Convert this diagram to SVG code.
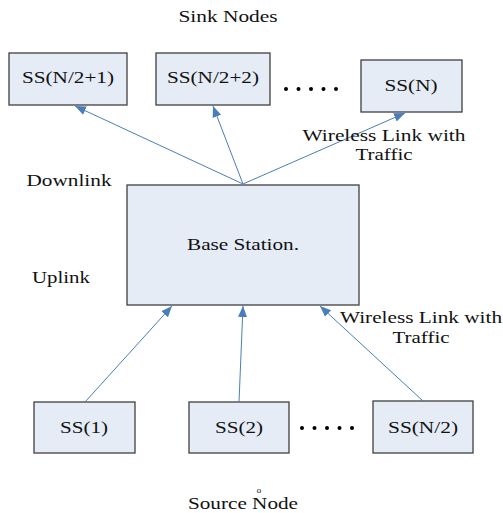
<svg xmlns="http://www.w3.org/2000/svg" width="503" height="513" viewBox="0 0 503 513">
<style>
text{font-family:"Liberation Serif","Times New Roman",serif;font-size:16px;fill:#111;text-anchor:middle}
.box{fill:#e5ecf6;stroke:#3f3f3f;stroke-width:1.3}
.link{stroke:#4a7ebb;stroke-width:1;fill:none;marker-end:url(#arr)}
.dot{fill:#000}
</style>
<defs>
<marker id="arr" markerUnits="userSpaceOnUse" markerWidth="12" markerHeight="12" viewBox="0 0 12 12" refX="11" refY="6" orient="auto">
<path d="M0,1.5 L11,6 L0,10.5 Z" fill="#4a7ebb"/>
</marker>
</defs>
<text x="228" y="22" textLength="99" lengthAdjust="spacingAndGlyphs">Sink Nodes</text>
<g id="ss_n2_1"><rect class="box" x="9" y="53" width="118" height="52"/><text x="68" y="83" textLength="92" lengthAdjust="spacingAndGlyphs">SS(N/2+1)</text></g>
<g id="ss_n2_2"><rect class="box" x="156" y="53" width="114" height="52"/><text x="213" y="83" textLength="92" lengthAdjust="spacingAndGlyphs">SS(N/2+2)</text></g>
<g id="dots_top"><circle class="dot" cx="286" cy="89" r="2"/><circle class="dot" cx="298.5" cy="89" r="2"/><circle class="dot" cx="311" cy="89" r="2"/><circle class="dot" cx="323.5" cy="89" r="2"/><circle class="dot" cx="336" cy="89" r="2"/></g>
<g id="ss_n"><rect class="box" x="361" y="60" width="101" height="52"/><text x="411" y="91" textLength="53" lengthAdjust="spacingAndGlyphs">SS(N)</text></g>
<g id="base_station"><rect class="box" x="127" y="185" width="232" height="120"/><text x="243" y="250" textLength="112" lengthAdjust="spacingAndGlyphs">Base Station.</text></g>
<g id="ss_1"><rect class="box" x="34" y="402" width="101" height="51"/><text x="84" y="433" textLength="48" lengthAdjust="spacingAndGlyphs">SS(1)</text></g>
<g id="ss_2"><rect class="box" x="189" y="402" width="100" height="51"/><text x="239" y="433" textLength="48" lengthAdjust="spacingAndGlyphs">SS(2)</text></g>
<g id="dots_bottom"><circle class="dot" cx="302" cy="428" r="2"/><circle class="dot" cx="314.5" cy="428" r="2"/><circle class="dot" cx="327" cy="428" r="2"/><circle class="dot" cx="339.5" cy="428" r="2"/><circle class="dot" cx="352" cy="428" r="2"/></g>
<g id="ss_n2"><rect class="box" x="373" y="401" width="100" height="52"/><text x="423" y="433" textLength="70" lengthAdjust="spacingAndGlyphs">SS(N/2)</text></g>
<g id="connectors">
<line class="link" x1="243" y1="184" x2="75" y2="106"/>
<line class="link" x1="243" y1="184" x2="213" y2="106"/>
<line class="link" x1="243" y1="184" x2="405" y2="113"/>
<line class="link" x1="85" y1="402" x2="172" y2="306"/>
<line class="link" x1="239" y1="402" x2="243" y2="306"/>
<line class="link" x1="423" y1="401" x2="320" y2="306"/>
</g>
<g id="labels">
<text x="384" y="141" textLength="163" lengthAdjust="spacingAndGlyphs">Wireless Link with</text>
<text x="384" y="160" textLength="57" lengthAdjust="spacingAndGlyphs">Traffic</text>
<text x="69" y="186" textLength="85" lengthAdjust="spacingAndGlyphs">Downlink</text>
<text x="61" y="283" textLength="58" lengthAdjust="spacingAndGlyphs">Uplink</text>
<text x="421" y="323" textLength="162" lengthAdjust="spacingAndGlyphs">Wireless Link with</text>
<text x="421" y="343" textLength="57" lengthAdjust="spacingAndGlyphs">Traffic</text>
<text x="259" y="493" style="font-size:9px">o</text>
<text x="243" y="509" textLength="110" lengthAdjust="spacingAndGlyphs">Source Node</text>
</g>
</svg>
